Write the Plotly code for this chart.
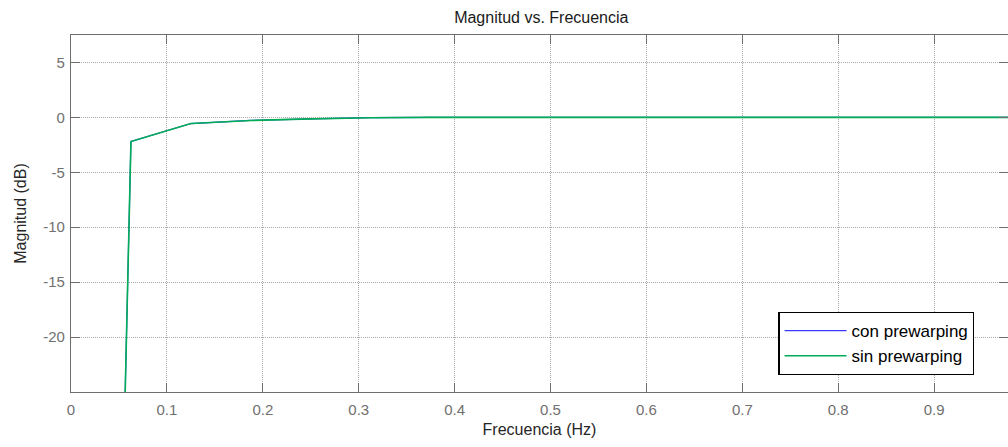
import plotly.graph_objects as go

# Frequency axis (Hz) and magnitude response (dB) of both filter designs
frecuencia = [0.0, 0.0625, 0.125, 0.1875, 0.25, 0.3125, 0.375, 0.4375, 0.5,
              0.5625, 0.625, 0.6875, 0.75, 0.8125, 0.875, 0.9375, 1.0]
mag_con_prewarping = [-240.0, -2.2, -0.56, -0.28, -0.14, -0.03, 0.0, 0.0, 0.0,
                      0.0, 0.0, 0.0, 0.0, 0.0, 0.0, 0.0, 0.0]
mag_sin_prewarping = [-240.0, -2.2, -0.56, -0.28, -0.14, -0.03, 0.0, 0.0, 0.0,
                      0.0, 0.0, 0.0, 0.0, 0.0, 0.0, 0.0, 0.0]

x_ticks = [0, 0.1, 0.2, 0.3, 0.4, 0.5, 0.6, 0.7, 0.8, 0.9]
x_tick_labels = ["0", "0.1", "0.2", "0.3", "0.4", "0.5", "0.6", "0.7", "0.8", "0.9"]
y_ticks = [-20, -15, -10, -5, 0, 5]
y_tick_labels = ["-20", "-15", "-10", "-5", "0", "5"]

FONT = "Liberation Sans, Arial, Helvetica, sans-serif"
AXIS_GRAY = "#6e6e6e"

fig = go.Figure()
fig.add_trace(go.Scatter(
    x=frecuencia, y=mag_con_prewarping, mode="lines", name="con prewarping",
    line=dict(color="#3a3aff", width=1.2),
))
fig.add_trace(go.Scatter(
    x=frecuencia, y=mag_sin_prewarping, mode="lines", name="sin prewarping",
    line=dict(color="#00ac55", width=1.6),
))

axis_common = dict(
    showline=True, linecolor=AXIS_GRAY, linewidth=1.3, mirror="ticks",
    ticks="inside", ticklen=9, tickwidth=1, tickcolor=AXIS_GRAY,
    showgrid=True, gridcolor="#a8a8a8", griddash="1px,1px", gridwidth=1,
    zeroline=False, tickfont=dict(family=FONT, size=15, color="#707070"),
)

fig.update_layout(
    width=1008, height=447,
    margin=dict(l=71, r=0, t=35, b=55),
    paper_bgcolor="white", plot_bgcolor="white",
    font=dict(family=FONT, color="#262626"),
    title=dict(text="Magnitud vs. Frecuencia", x=0.537, xref="container",
               xanchor="center", y=1 - 17 / 447, yref="container", yanchor="middle",
               font=dict(family=FONT, size=16, color="#1a1a1a")),
    xaxis=dict(range=[0, 0.977], tickvals=x_ticks, ticktext=x_tick_labels,
               title=dict(text="Frecuencia (Hz)", standoff=6,
                          font=dict(family=FONT, size=16, color="#262626")),
               ticklabelstandoff=4, **axis_common),
    yaxis=dict(range=[-25, 7.5], tickvals=y_ticks, ticktext=y_tick_labels,
               title=dict(text="Magnitud (dB)", standoff=12,
                          font=dict(family=FONT, size=16, color="#262626")),
               ticklabelstandoff=2, **axis_common),
    showlegend=True,
    legend=dict(x=0.964, xanchor="right", y=0.048, yanchor="bottom",
                bgcolor="white", bordercolor="#000000", borderwidth=1.3,
                font=dict(family=FONT, size=17, color="#000000"),
                itemwidth=62, tracegroupgap=0,
                entrywidth=205, entrywidthmode="pixels"),
)

fig.write_html("out.html")
